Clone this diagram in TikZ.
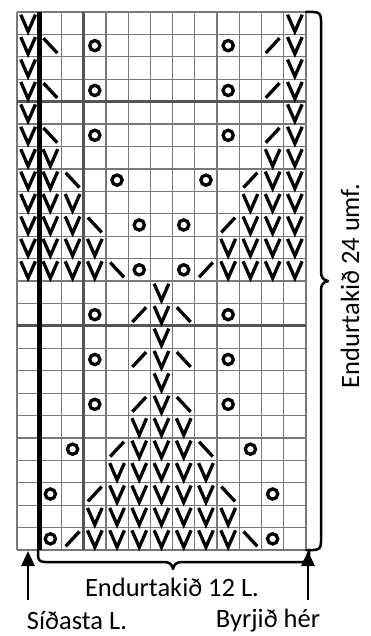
\documentclass[tikz,border=0pt]{standalone}
\usepackage{fontspec}
\setmainfont{Carlito}
\usetikzlibrary{arrows.meta}
\definecolor{gridthin}{RGB}{120,120,120}
\definecolor{gridthick}{RGB}{85,85,85}
\begin{document}
\begin{tikzpicture}[x=1pt,y=-1pt,
  thingrid/.style={draw=gridthin, line width=1.2pt},
  thickgrid/.style={draw=gridthick, line width=3.2pt},
  blackrule/.style={draw=black, line width=5pt},
  symline/.style={draw=black, line width=3.3pt},
  bracestyle/.style={draw=black, line width=2.5pt, line cap=round, line join=round},
  arrowline/.style={draw=black, line width=2.8pt, -{Triangle[length=15pt,width=13pt]}},
  lbl/.style={font=\fontsize{26.5}{30}\selectfont, inner sep=0pt, anchor=center},
  pics/kv/.style={code={\draw[symline] (-0.33,-0.38) -- (0,0.37) -- (0.33,-0.38);}},
  pics/ko/.style={code={\draw[symline] (0,0) circle[radius=5.1pt];}},
  pics/kl/.style={code={\draw[symline] (-0.31,-0.33) -- (0.31,0.33);}},
  pics/kr/.style={code={\draw[symline] (-0.31,0.33) -- (0.31,-0.33);}}
]
\useasboundingbox (0,0) rectangle (371,636);
\fill[white] (0,0) rectangle (371,636);

\begin{scope}[shift={(17pt,-12pt)}, x=22.23pt, y=-22.42pt]
  % thin grid
  \foreach \c in {0,...,13} \draw[thingrid] (\c,0) -- (\c,24);
  \foreach \r in {0,...,24} \draw[thingrid] (0,\r) -- (13,\r);
  % thick separators
  \draw[thickgrid] (3,0) -- (3,24);
  \draw[thickgrid] (0,4) -- (13,4);
  \draw[thickgrid] (0,14) -- (13,14);
  \draw[blackrule] (1,0) -- (1,24);
  % V stitches, symmetric edges (upper half)
  \foreach \r/\a/\b in {1/1/1,2/1/1,3/1/1,4/1/1,5/1/1,6/1/1,7/1/2,8/1/2,9/1/3,10/1/3,11/1/4,12/1/4} {
    \foreach \c in {\a,...,\b} {
      \pic at ({\c-0.5},{\r-0.5}) {kv};
      \pic at ({13.5-\c},{\r-0.5}) {kv};
    }
  }
  % V stitches, centre (lower half)
  \foreach \r/\a/\b in {13/7/7,14/7/7,15/7/7,16/7/7,17/7/7,18/7/7,19/6/8,20/6/8,21/5/9,22/5/9,23/4/10,24/4/10} {
    \foreach \c in {\a,...,\b} {
      \pic at ({\c-0.5},{\r-0.5}) {kv};
    }
  }
  % yarn overs
  \foreach \c/\r in {4/2,10/2,4/4,10/4,4/6,10/6,5/8,9/8,6/10,8/10,6/12,8/12,4/14,10/14,4/16,10/16,4/18,10/18,3/20,11/20,2/22,12/22,2/24,12/24}
    \pic at ({\c-0.5},{\r-0.5}) {ko};
  % left-leaning decreases
  \foreach \c/\r in {2/2,2/4,2/6,3/8,4/10,5/12,8/14,8/16,8/18,9/20,10/22,11/24}
    \pic at ({\c-0.5},{\r-0.5}) {kl};
  % right-leaning decreases
  \foreach \c/\r in {12/2,12/4,12/6,11/8,10/10,9/12,6/14,6/16,6/18,5/20,4/22,3/24}
    \pic at ({\c-0.5},{\r-0.5}) {kr};
\end{scope}

% right brace (24 rows)
\draw[bracestyle] (306,12) -- (313,12) .. controls (319,12) and (321,14) .. (321,20)
  -- (321,272) .. controls (321,277) and (323,280) .. (328,281)
  .. controls (323,282) and (321,285) .. (321,290)
  -- (321,542) .. controls (321,548) and (319,550) .. (313,550) -- (306,550);

% bottom brace (12 stitches)
\draw[bracestyle] (38,550) -- (38,555) .. controls (38,560) and (40,562) .. (45,562)
  -- (164,562) .. controls (169,562) and (172,564) .. (173,569)
  .. controls (174,564) and (177,562) .. (182,562)
  -- (302,562) .. controls (307,562) and (309,560) .. (309,555) -- (309,550);

% labels
\node[lbl] (rep12) at (172,587) {Endurtakið 12 L.};
\node[lbl] (last) at (77,621) {Síðasta L.};
\node[lbl] (start) at (268,621) {Byrjið hér};
\node[lbl, rotate=90] (rep24) at (350,286) {Endurtakið 24 umf.};

% arrows
\coordinate (lastfoot) at (28,600);
\coordinate (lasthead) at (28,551);
\coordinate (startfoot) at (308,600);
\coordinate (starthead) at (308,551);
\draw[arrowline] (lastfoot) -- (lasthead);
\draw[arrowline] (startfoot) -- (starthead);
\end{tikzpicture}
\end{document}
